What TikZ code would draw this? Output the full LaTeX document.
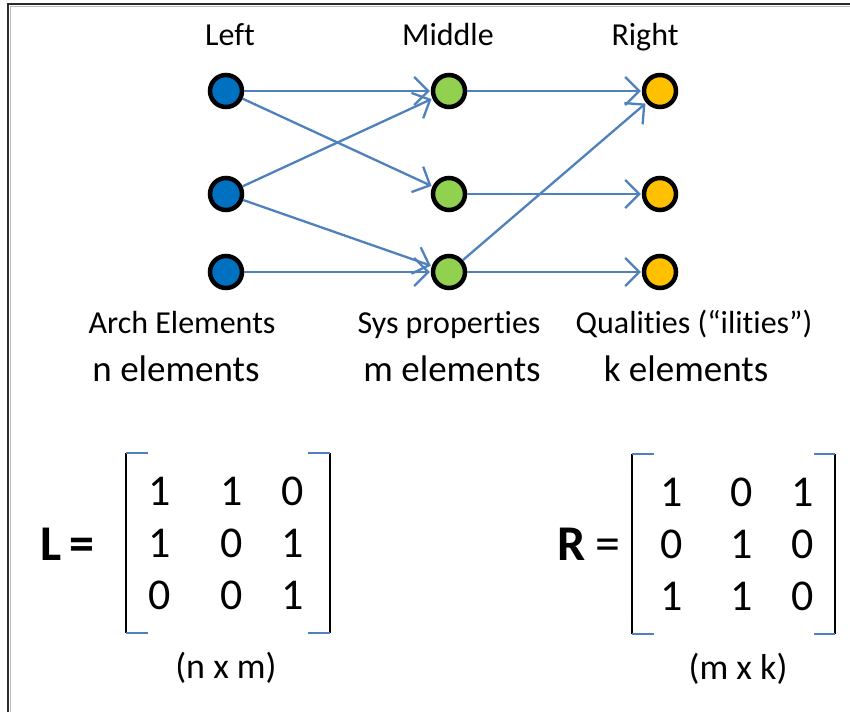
\documentclass[tikz,border=0pt]{standalone}
\usepackage{fontspec}
\setmainfont{Carlito}[Ligatures=NoCommon]
\usetikzlibrary{arrows.meta}
\definecolor{arrowblue}{HTML}{4F81BD}
\definecolor{nodeblue}{HTML}{0070C0}
\definecolor{nodegreen}{HTML}{92D050}
\definecolor{nodeorange}{HTML}{FFC000}
\definecolor{framegray}{HTML}{2B2B2B}
\tikzset{
  dot/.style={circle,draw=black,line width=4.5pt,minimum size=32pt,inner sep=0pt},
  conn/.style={draw=arrowblue,line width=2.3pt,-{Straight Barb[length=14pt,width=28pt,line width=2.3pt]},shorten >=1pt},
  lab/.style={font=\fontsize{32}{36}\selectfont,anchor=base,inner sep=0pt},
  cnt/.style={font=\fontsize{37}{42}\selectfont,anchor=base,inner sep=0pt},
  ent/.style={font=\fontsize{44}{50}\selectfont,anchor=base,inner sep=0pt},
  dim/.style={font=\fontsize{36}{40}\selectfont,anchor=base,inner sep=0pt},
  big/.style={font=\fontsize{50}{56}\selectfont\bfseries,anchor=base,inner sep=0pt},
  eq/.style={font=\fontsize{50}{56}\selectfont,anchor=base,inner sep=0pt},
  brk/.style={line width=2.5pt,black},
  tick/.style={line width=2.5pt,arrowblue},
}
\begin{document}
\begin{tikzpicture}[x=1pt,y=-1pt]
\useasboundingbox (0,0) rectangle (850,712);
\fill[white] (0,0) rectangle (850,712);
% frame (top and left edges)
\draw[line width=2pt,framegray] (8,712) -- (8,4) -- (850,4);
\draw[line width=1pt,black!25] (10.5,712) -- (10.5,6.5) -- (850,6.5);

% column titles
\node[lab] (tLeft) at (230,45) {Left};
\node[lab] (tMid) at (448,45) {Middle};
\node[lab] (tRight) at (645,45) {Right};

% nodes
\node[dot,fill=nodeblue] (a1) at (226,91) {};
\node[dot,fill=nodeblue] (a2) at (226,194) {};
\node[dot,fill=nodeblue] (a3) at (226,272) {};
\node[dot,fill=nodegreen] (b1) at (449,91) {};
\node[dot,fill=nodegreen] (b2) at (449,194) {};
\node[dot,fill=nodegreen] (b3) at (449,272) {};
\node[dot,fill=nodeorange] (c1) at (660,91) {};
\node[dot,fill=nodeorange] (c2) at (660,194) {};
\node[dot,fill=nodeorange] (c3) at (660,272) {};

% connectors
\draw[conn] (a1) -- (b1);
\draw[conn] (a1) -- (b2);
\draw[conn] (a2) -- (b1);
\draw[conn] (a2) -- (b3);
\draw[conn] (a3) -- (b3);
\draw[conn] (b1) -- (c1);
\draw[conn] (b2) -- (c2);
\draw[conn] (b3) -- (c3);
\draw[conn] (b3) -- (c1);

% bottom labels
\node[lab] (lA) at (182,333) {Arch Elements};
\node[lab] (lB) at (449,333) {Sys properties};
\node[lab] (lC) at (694,333) {Qualities (“ilities”)};
\node[cnt] (nA) at (176,381) {n elements};
\node[cnt] (nB) at (452,381) {m elements};
\node[cnt] (nC) at (686,381) {k elements};

% matrix L
\node[big] (Lname) at (51,560) {L};
\node[big] (Leq) at (82,560) {=};
\draw[brk] (126,453) -- (126,633);
\draw[tick] (126,453) -- (148,453);
\draw[tick] (126,633) -- (148,633);
\draw[brk] (330,453) -- (330,633);
\draw[tick] (330,453) -- (308,453);
\draw[tick] (330,633) -- (308,633);
\node[ent] (L11) at (160,505) {1};
\node[ent] (L12) at (232,505) {1};
\node[ent] (L13) at (293,505) {0};
\node[ent] (L21) at (160,557) {1};
\node[ent] (L22) at (232,557) {0};
\node[ent] (L23) at (293,557) {1};
\node[ent] (L31) at (160,609) {0};
\node[ent] (L32) at (232,609) {0};
\node[ent] (L33) at (293,609) {1};
\node[dim] (Ldim) at (226,678) {(n x m)};

% matrix R
\node[big] (Rname) at (572,560) {R};
\node[eq] (Req) at (608,560) {=};
\draw[brk] (632,454) -- (632,634);
\draw[tick] (632,454) -- (654,454);
\draw[tick] (632,634) -- (654,634);
\draw[brk] (835,454) -- (835,634);
\draw[tick] (835,454) -- (814,454);
\draw[tick] (835,634) -- (814,634);
\node[ent] (R11) at (672,506) {1};
\node[ent] (R12) at (742,506) {0};
\node[ent] (R13) at (803,506) {1};
\node[ent] (R21) at (672,558) {0};
\node[ent] (R22) at (742,558) {1};
\node[ent] (R23) at (803,558) {0};
\node[ent] (R31) at (672,610) {1};
\node[ent] (R32) at (742,610) {1};
\node[ent] (R33) at (803,610) {0};
\node[dim] (Rdim) at (738,679) {(m x k)};
\end{tikzpicture}
\end{document}
